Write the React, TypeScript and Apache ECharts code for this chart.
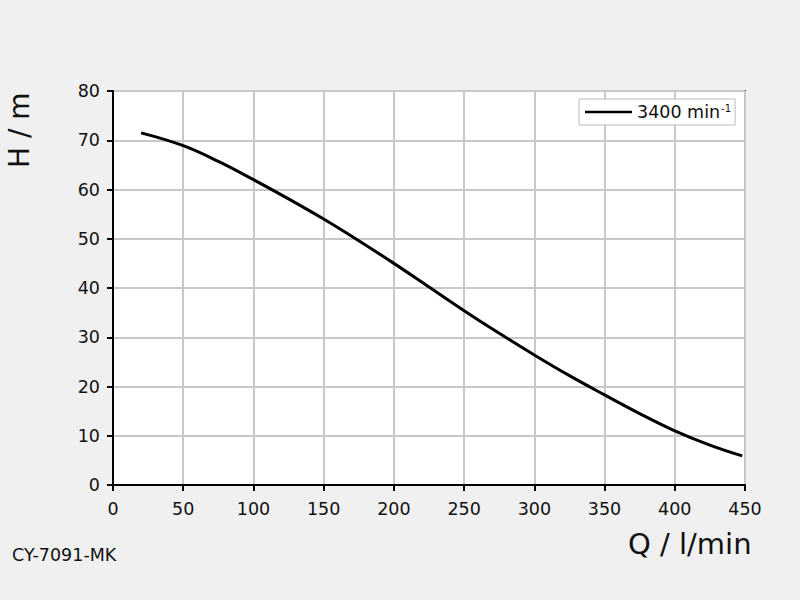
import React, { useEffect, useRef } from "react";
import * as echarts from "echarts";

const flowQ = [20, 50, 75, 100, 125, 150, 175, 200, 225, 250, 275, 300, 325, 350, 375, 400, 425, 448];
const headH = [71.5, 68.9, 65.7, 62.0, 58.1, 54.0, 49.6, 45.0, 40.2, 35.4, 30.8, 26.4, 22.2, 18.3, 14.5, 11.0, 8.1, 5.9];
const seriesName = "3400 min";
const seriesSup = "-1";
const xTitle = "Q / l/min";
const yTitle = "H / m";
const footer = "CY-7091-MK";

export default function App() {
  const ref = useRef<HTMLDivElement>(null);
  useEffect(() => {
    if (!ref.current) return;
    const chart = echarts.init(ref.current, undefined, { renderer: "svg" });
    const font = "DejaVu Sans, Verdana, sans-serif";
    chart.setOption({
      animation: false,
      backgroundColor: "#f0f0f0",
      textStyle: { fontFamily: font },
      grid: {
        left: 113,
        right: 55,
        top: 91,
        bottom: 115,
        show: true,
        backgroundColor: "#ffffff",
        borderColor: "#000",
        borderWidth: 2,
      },
      legend: {
        show: true,
        left: 579,
        top: 99,
        backgroundColor: "#fff",
        borderColor: "#bbb",
        borderWidth: 1,
        padding: [4, 4, 4, 6],
        itemWidth: 47,
        itemHeight: 18,
        itemGap: 8,
        formatter: (n: string) => `{a|${n}}{s|${seriesSup}}`,
        textStyle: {
          fontFamily: font,
          color: "#111",
          rich: {
            a: { fontSize: 17.5, fontFamily: font, color: "#111" },
            s: { fontSize: 10, fontFamily: font, color: "#111", verticalAlign: "top", padding: [0, 0, 7, 1] },
          },
        },
        data: [{ name: seriesName, icon: "path://M0,8 L47,8 L47,10.5 L0,10.5 Z" }],
      },
      xAxis: {
        type: "value",
        min: 0,
        max: 450,
        interval: 50,
        axisLine: { show: true, onZero: false, lineStyle: { color: "#000", width: 2 } },
        axisTick: { show: true, length: 6, lineStyle: { color: "#000", width: 2 } },
        axisLabel: { color: "#111", fontSize: 17.5, fontFamily: font, margin: 15 },
        splitLine: { show: true, lineStyle: { color: "#c8c8c8", width: 2 } },
      },
      yAxis: {
        type: "value",
        min: 0,
        max: 80,
        interval: 10,
        axisLine: { show: true, onZero: false, lineStyle: { color: "#000", width: 2 } },
        axisTick: { show: true, length: 6, lineStyle: { color: "#000", width: 2 } },
        axisLabel: { color: "#111", fontSize: 17.5, fontFamily: font, margin: 13 },
        splitLine: { show: true, lineStyle: { color: "#c8c8c8", width: 2 } },
      },
      graphic: [
        {
          type: "text",
          left: 628,
          top: 529,
          style: { text: xTitle, fontSize: 29, fontFamily: font, fill: "#111" },
        },
        {
          type: "text",
          x: 5,
          y: 168,
          rotation: Math.PI / 2,
          style: { text: yTitle, fontSize: 28, fontFamily: font, fill: "#111" },
        },
        {
          type: "text",
          left: 12,
          top: 546,
          style: { text: footer, fontSize: 17.5, fontFamily: font, fill: "#111" },
        },
      ],
      series: [
        {
          name: seriesName,
          type: "line",
          smooth: 0.4,
          symbol: "none",
          lineStyle: { color: "#000", width: 3 },
          itemStyle: { color: "#000" },
          data: flowQ.map((q, i) => [q, headH[i]]),
        },
      ],
    });
    return () => chart.dispose();
  }, []);
  return <div ref={ref} style={{ position: "fixed", left: 0, top: 0, width: 800, height: 600 }} />;
}
